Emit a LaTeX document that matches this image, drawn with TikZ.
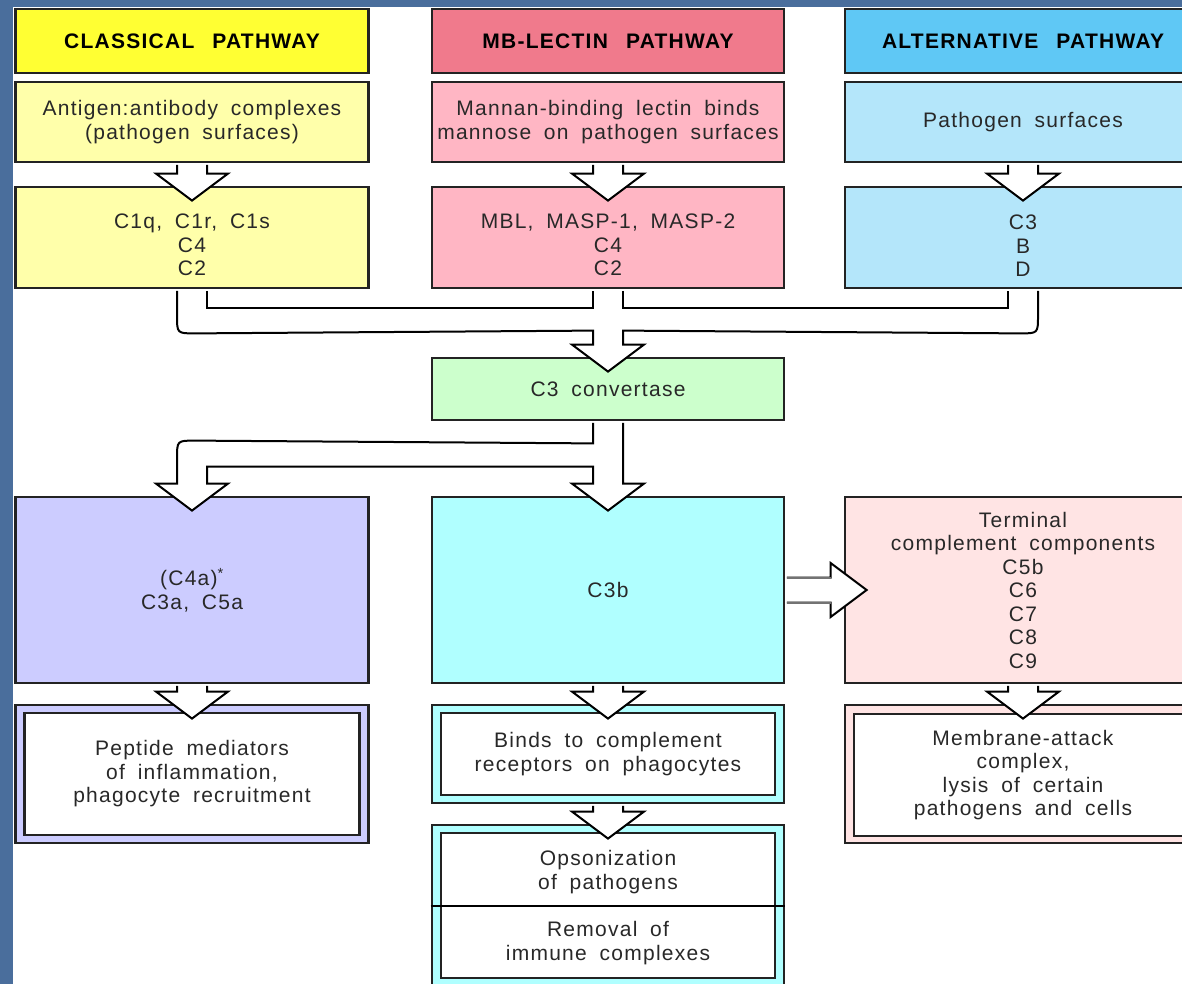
\documentclass[tikz,border=0pt]{standalone}
\usepackage{fontspec}
\setmainfont{Liberation Sans}[LetterSpace=6,WordSpace=1.8]
\usetikzlibrary{calc}
\definecolor{bgblue}{RGB}{74,110,156}
\definecolor{hdyel}{RGB}{255,255,51}
\definecolor{hdpink}{RGB}{240,122,140}
\definecolor{hdblue}{RGB}{95,200,245}
\definecolor{lyel}{RGB}{255,255,170}
\definecolor{lpink}{RGB}{255,182,196}
\definecolor{lblue}{RGB}{180,230,250}
\definecolor{lgreen}{RGB}{204,255,204}
\definecolor{lav}{RGB}{204,204,255}
\definecolor{lcyan}{RGB}{176,255,255}
\definecolor{lrose}{RGB}{255,228,228}
\definecolor{ink}{RGB}{40,40,40}
\definecolor{edge}{RGB}{35,35,35}
\newcommand{\dnarrow}[2]{%
  \path let \p1=(#1.south), \p2=(#2.north) in
    [blk] (\x1-15pt,\y1-1.5pt) -- (\x1-15pt,\y2+12pt) -- (\x1-36pt,\y2+12pt)
    -- (\x1,\y2-15pt) -- (\x1+36pt,\y2+12pt) -- (\x1+15pt,\y2+12pt) -- (\x1+15pt,\y1-1.5pt);}
\begin{document}
\begin{tikzpicture}[x=1pt,y=-1pt,
  box/.style={draw=edge, line width=2.8pt, rectangle, inner sep=0pt, align=center,
    text=ink, font=\fontsize{21}{23.5}\selectfont},
  hdr/.style={box, text=black, font=\fontsize{21}{24}\selectfont\bfseries},
  inbox/.style={box, fill=white, line width=2.4pt},
  txt/.style={inner sep=0pt, align=center, text=ink, font=\fontsize{21}{23.5}\selectfont},
  blk/.style={fill=white, draw=black, line width=2pt, line join=miter}]
\useasboundingbox (0,0) rectangle (1182,984);
\clip (0,0) rectangle (1182,984);
\fill[bgblue] (0,0) rectangle (1182,984);
\fill[white] (13,7) rectangle (1182,984);

% headers
\node[hdr, fill=hdyel, minimum width=353, minimum height=64] (h1) at (192,41) {CLASSICAL\hspace{0.25em} PATHWAY};
\node[hdr, fill=hdpink, minimum width=352, minimum height=64] (h2) at (608,41) {MB-LECTIN\hspace{0.25em} PATHWAY};
\node[hdr, fill=hdblue, minimum width=356, minimum height=64] (h3) at (1023,41) {ALTERNATIVE\hspace{0.25em} PATHWAY};

% row 2
\node[box, fill=lyel, minimum width=353, minimum height=80] (a1) at (192,122) {Antigen:antibody complexes\\(pathogen surfaces)};
\node[box, fill=lpink, minimum width=352, minimum height=80] (a2) at (608,122) {Mannan-binding lectin binds\\mannose on pathogen surfaces};
\node[box, fill=lblue, minimum width=356, minimum height=80] (a3) at (1023,122) {Pathogen surfaces};

% row 3
\node[box, fill=lyel, minimum width=353, minimum height=101] (b1) at (192,237.5) {};
\node[box, fill=lpink, minimum width=352, minimum height=101] (b2) at (608,237.5) {};
\node[box, fill=lblue, minimum width=356, minimum height=101] (b3) at (1023,237.5) {};
\node[txt] (b1t) at (192,245) {C1q, C1r, C1s\\C4\\C2};
\node[txt] (b2t) at (608,245) {MBL, MASP-1, MASP-2\\C4\\C2};
\node[txt] (b3t) at (1023,246) {C3\\B\\D};

% convertase
\node[box, fill=lgreen, minimum width=352, minimum height=62] (cv) at (608,389) {C3 convertase};

% row 4
\node[box, fill=lav, minimum width=353, minimum height=186] (r1) at (192,590) {(C4a)\textsuperscript{*}\\C3a, C5a};
\node[box, fill=lcyan, minimum width=352, minimum height=186] (r2) at (608,590) {C3b};
\node[box, fill=lrose, minimum width=356, minimum height=186] (r3) at (1023,590) {Terminal\\complement components\\C5b\\C6\\C7\\C8\\C9};

% row 5
\node[box, fill=lav, minimum width=353, minimum height=138] (p1) at (192,774) {};
\node[inbox, minimum width=335, minimum height=122] (p1i) at (192,774) {Peptide mediators\\of inflammation,\\phagocyte recruitment};
\node[box, fill=lcyan, minimum width=352, minimum height=98] (p2) at (608,754) {};
\node[inbox, minimum width=334, minimum height=82] (p2i) at (608,754) {Binds to complement\\receptors on phagocytes};
\node[box, fill=lrose, minimum width=356, minimum height=138] (p3) at (1023,774) {};
\node[inbox, minimum width=338, minimum height=122] (p3i) at (1023,775) {Membrane-attack\\complex,\\lysis of certain\\pathogens and cells};

% row 6
\node[box, fill=lcyan, minimum width=352, minimum height=162] (q2) at (608,906) {};
\node[inbox, minimum width=334, minimum height=145] (q2i) at (608,905.5) {};
\draw[draw=black, line width=1.6pt] (q2.west) -- (q2.east);
\node[txt] (ops) at (608,872) {Opsonization\\of pathogens};
\node[txt] (rem) at (608,943) {Removal of\\immune complexes};

% simple block arrows
\dnarrow{a1}{b1}
\dnarrow{a2}{b2}
\dnarrow{a3}{b3}
\dnarrow{r1}{p1}
\dnarrow{r2}{p2}
\dnarrow{r3}{p3}
\dnarrow{p2}{q2}

% merging connector
\path[blk] ($(b1.south)+(-15,1.5)$) -- ($(b1.south)+(-15,26)$)
  .. controls ($(b1.south)+(-15,44)$) .. ($(b1.south)+(3,44)$)
  -- ($(cv.north)+(-15,-26)$) -- ($(cv.north)+(-15,-12)$) -- ($(cv.north)+(-36,-12)$)
  -- ($(cv.north)+(0,15)$) -- ($(cv.north)+(36,-12)$) -- ($(cv.north)+(15,-12)$)
  -- ($(cv.north)+(15,-26)$) -- ($(b3.south)+(-3,44)$)
  .. controls ($(b3.south)+(15,44)$) .. ($(b3.south)+(15,26)$)
  -- ($(b3.south)+(15,1.5)$);
\draw[blk] ($(b1.south)+(15,1.5)$) -- ($(b1.south)+(15,19)$) -- ($(b2.south)+(-15,19)$) -- ($(b2.south)+(-15,1.5)$);
\draw[blk] ($(b2.south)+(15,1.5)$) -- ($(b2.south)+(15,19)$) -- ($(b3.south)+(-15,19)$) -- ($(b3.south)+(-15,1.5)$);

% splitting connector
\path[blk] ($(cv.south)+(-15,1.5)$) -- ($(cv.south)+(-15,22)$) -- ($(r1.north)+(3,-55)$)
  .. controls ($(r1.north)+(-15,-55)$) .. ($(r1.north)+(-15,-37)$)
  -- ($(r1.north)+(-15,-12)$) -- ($(r1.north)+(-36,-12)$) -- ($(r1.north)+(0,15)$)
  -- ($(r1.north)+(36,-12)$) -- ($(r1.north)+(15,-12)$)
  -- ($(r1.north)+(15,-29)$) -- ($(r2.north)+(-15,-29)$)
  -- ($(r2.north)+(-15,-12)$) -- ($(r2.north)+(-36,-12)$) -- ($(r2.north)+(0,15)$)
  -- ($(r2.north)+(36,-12)$) -- ($(r2.north)+(15,-12)$)
  -- ($(cv.south)+(15,1.5)$);

% right arrow C3b -> terminal components
\path[blk] ($(r2.east)+(1.5,-12.5)$) -- ($(r3.west)+(-13,-12.5)$) -- ($(r3.west)+(-13,-27)$)
  -- ($(r3.west)+(23,0)$) -- ($(r3.west)+(-13,27)$) -- ($(r3.west)+(-13,12.5)$)
  -- ($(r2.east)+(1.5,12.5)$);
\draw[black!55, line width=2pt] ($(r2.east)+(1.5,-12.5)$) -- ($(r3.west)+(-13,-12.5)$)
  ($(r2.east)+(1.5,12.5)$) -- ($(r3.west)+(-13,12.5)$);
\end{tikzpicture}
\end{document}
